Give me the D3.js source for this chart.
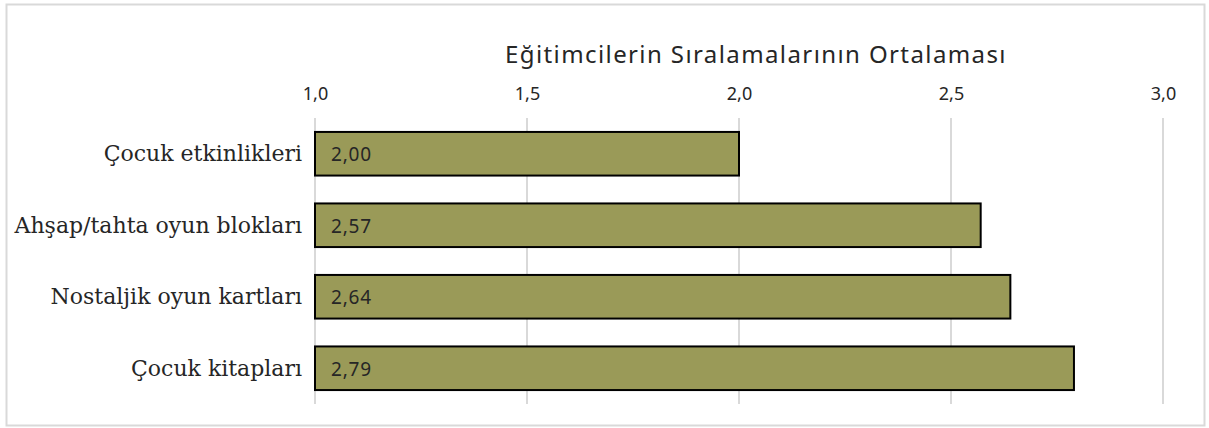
<!DOCTYPE html>
<html>
<head>
<meta charset="utf-8">
<script src="https://cdn.jsdelivr.net/npm/d3@7"></script>
<style>
  body { margin: 0; background: #fff; }
  .tick text { font-family: "Noto Sans", sans-serif; }
</style>
</head>
<body>
<div id="chart"></div>
<script>
var categories = ["Çocuk etkinlikleri", "Ahşap/tahta oyun blokları", "Nostaljik oyun kartları", "Çocuk kitapları"];
var values = [2.00, 2.57, 2.64, 2.79];
var labels = ["2,00", "2,57", "2,64", "2,79"];
var tickValues = [1.0, 1.5, 2.0, 2.5, 3.0];
var tickLabels = ["1,0", "1,5", "2,0", "2,5", "3,0"];

var svgWidth = 1209;
var svgHeight = 428;

var svg = d3.select("#chart")
  .append("svg")
  .attr("width", svgWidth)
  .attr("height", svgHeight);

// outer frame
svg.append("rect")
  .attr("x", 6.5).attr("y", 4.5)
  .attr("width", 1198).attr("height", 421)
  .attr("fill", "none")
  .attr("stroke", "#d9d9d9")
  .attr("stroke-width", 2);

var x = d3.scaleLinear()
  .domain([1, 3])
  .range([315, 1163]);

var y = d3.scaleBand()
  .domain(categories)
  .range([118, 404])
  .paddingInner(0.39)
  .paddingOuter(0.195);

// gridlines
svg.append("g")
  .selectAll("line")
  .data(tickValues)
  .enter()
  .append("line")
  .attr("x1", d => x(d)).attr("x2", d => x(d))
  .attr("y1", 118).attr("y2", 404)
  .attr("stroke", "#d9d9d9")
  .attr("stroke-width", 2);

var topAxis = d3.axisTop(x)
  .tickValues(tickValues)
  .tickFormat((d, i) => tickLabels[i])
  .tickSize(0)
  .tickPadding(0);

var axisG = svg.append("g")
  .attr("transform", "translate(0, 100)")
  .call(topAxis);
axisG.select(".domain").remove();
axisG.selectAll("text")
  .attr("font-size", 18)
  .attr("fill", "#262626");

svg.append("text")
  .attr("x", 756)
  .attr("y", 63)
  .attr("text-anchor", "middle")
  .attr("font-family", "Noto Sans, sans-serif")
  .attr("font-size", 24)
  .attr("letter-spacing", 1.4)
  .attr("fill", "#262626")
  .text("Eğitimcilerin Sıralamalarının Ortalaması");

// category labels
svg.append("g")
  .selectAll("text")
  .data(categories)
  .enter()
  .append("text")
  .attr("x", 302)
  .attr("y", d => y(d) + y.bandwidth() / 2)
  .attr("dy", "0.35em")
  .attr("text-anchor", "end")
  .attr("font-family", "DejaVu Serif, serif")
  .attr("font-size", 22)
  .attr("fill", "#262626")
  .text(d => d);

svg.append("g")
  .selectAll("rect")
  .data(values)
  .enter()
  .append("rect")
  .attr("x", x(1))
  .attr("y", (d, i) => y(categories[i]))
  .attr("width", d => x(d) - x(1))
  .attr("height", y.bandwidth())
  .attr("fill", "#9a9a58")
  .attr("stroke", "#000")
  .attr("stroke-width", 2);

svg.append("g")
  .selectAll("text")
  .data(labels)
  .enter()
  .append("text")
  .attr("x", 331)
  .attr("y", (d, i) => y(categories[i]) + y.bandwidth() / 2)
  .attr("dy", "0.4em")
  .attr("font-family", "Noto Sans, sans-serif")
  .attr("font-size", 19)
  .attr("letter-spacing", 0.8)
  .attr("fill", "#262626")
  .text(d => d);
</script>
</body>
</html>
